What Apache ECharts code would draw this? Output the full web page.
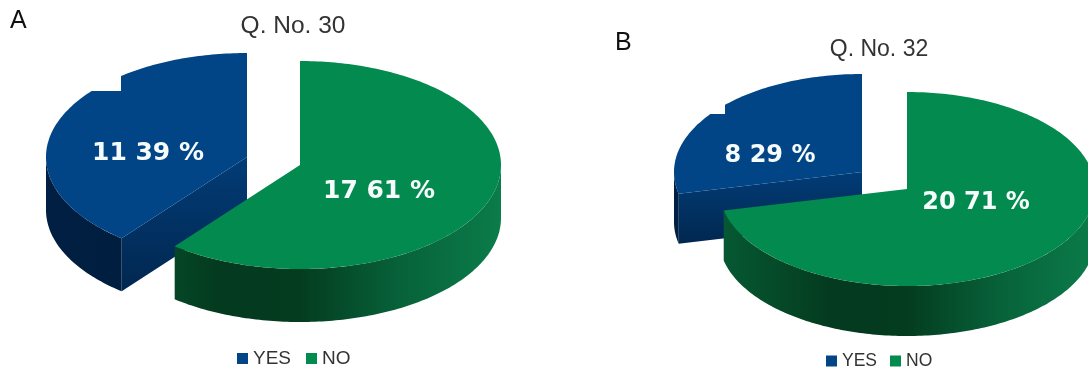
<!DOCTYPE html>
<html>
<head>
<meta charset="utf-8">
<style>html,body{margin:0;padding:0;background:#fff}#c{width:1088px;height:369px}</style>
<script src="https://cdn.jsdelivr.net/npm/echarts@6/dist/echarts.min.js"></script>
</head>
<body>
<div id="c"></div>
<script>
// ---- data ----
const answers = ['YES', 'NO'];
const panelLetters = ['A', 'B'];
const questionTitles = ['Q. No. 30', 'Q. No. 32'];
const q30Counts = [11, 17];
const q30Percents = [39, 61];
const q32Counts = [8, 20];
const q32Percents = [29, 71];

// ---- layout and style ----
const FONT = '"Liberation Sans", Arial, sans-serif';
const LAYOUT = [
  { yes: { cx: 247, cy: 157, rx: 201, ry: 104, depth: 53, lx: 148, ly: 153 },
    no:  { cx: 300, cy: 165, rx: 201, ry: 104, depth: 53, lx: 379, ly: 191 }, labelSize: 25 },
  { yes: { cx: 862, cy: 172, rx: 188, ry: 98, depth: 50, lx: 770, ly: 156 },
    no:  { cx: 907, cy: 189, rx: 188, ry: 97, depth: 50, lx: 976, ly: 203 }, labelSize: 24 }
];
const STYLE = {
  YES: {
    top: '#014586',
    outer: [[0, '#001f42'], [0.5, '#001c3b'], [1, '#012a55']],
    edge: [[0, '#023c76'], [1, '#012750']]
  },
  NO: {
    top: '#038a4f',
    outer: [[0, '#065a33'], [0.3, '#043a1f'], [0.5, '#043c20'], [0.75, '#07623a'], [1, '#0b7c4a']],
    edge: [[0, '#03703f'], [1, '#024a28']]
  }
};

const rad = d => d * Math.PI / 180;
function rim(p, deg, drop) {
  return [p.cx + p.rx * Math.sin(rad(deg)), p.cy - p.ry * Math.cos(rad(deg)) + (drop || 0)];
}
function arc(p, a0, a1, drop) {
  const pts = [], n = Math.max(2, Math.ceil(Math.abs(a1 - a0)));
  for (let i = 0; i <= n; i++) pts.push(rim(p, a0 + (a1 - a0) * i / n, drop));
  return pts;
}
function stops(list) { return list.map(s => ({ offset: s[0], color: s[1] })); }

function makeRender(name, geo, labelSize) {
  return function (params, api) {
    const count = api.value(0), total = api.value(1), before = api.value(2), pct = api.value(3);
    const a0 = before / total * 360, a1 = (before + count) / total * 360;
    const st = STYLE[name], kids = [];
    const apex = [geo.cx, geo.cy];
    const wallGrad = {
      type: 'linear', global: true, x: geo.cx - geo.rx, y: 0, x2: geo.cx + geo.rx, y2: 0,
      colorStops: stops(st.outer)
    };
    // cut faces that look toward the viewer
    function cutFace(deg) {
      const e = rim(geo, deg);
      kids.push({
        type: 'polygon',
        shape: { points: [apex, e, [e[0], e[1] + geo.depth], [apex[0], apex[1] + geo.depth]] },
        style: {
          fill: { type: 'linear', global: true, x: 0, y: geo.cy, x2: 0, y2: e[1] + geo.depth, colorStops: stops(st.edge) }
        }
      });
    }
    if (Math.sin(rad(a0)) < -1e-6) cutFace(a0);
    if (Math.sin(rad(a1)) > 1e-6) cutFace(a1);
    // outer wall: only the part of the rim on the near side
    const v0 = Math.max(a0, 90), v1 = Math.min(a1, 270);
    if (v1 > v0) {
      kids.push({
        type: 'polygon',
        shape: { points: arc(geo, v0, v1, 0).concat(arc(geo, v1, v0, geo.depth)) },
        style: { fill: wallGrad }
      });
    }
    // top face
    kids.push({
      type: 'polygon',
      shape: { points: [apex].concat(arc(geo, a0, a1, 0)) },
      style: { fill: st.top }
    });
    kids.push({
      type: 'text',
      style: {
        text: count + ' ' + pct + ' %', x: geo.lx, y: geo.ly, align: 'center', verticalAlign: 'middle',
        fill: '#f6fbfb', fontSize: labelSize, fontWeight: 'bold', fontFamily: '"DejaVu Sans"'
      }
    });
    return { type: 'group', children: kids };
  };
}

function pieSeries(panel, counts, percents) {
  const total = counts[0] + counts[1];
  const g = LAYOUT[panel];
  // NO starts at twelve o'clock and runs clockwise; YES closes the circle
  return [
    { name: answers[0], type: 'custom', coordinateSystem: 'none', silent: true, clip: false,
      itemStyle: { color: STYLE.YES.top },
      data: [[counts[0], total, counts[1], percents[0]]],
      renderItem: makeRender('YES', g.yes, g.labelSize) },
    { name: answers[1], type: 'custom', coordinateSystem: 'none', silent: true, clip: false,
      itemStyle: { color: STYLE.NO.top },
      data: [[counts[1], total, 0, percents[1]]],
      renderItem: makeRender('NO', g.no, g.labelSize) }
  ];
}

function legendAt(left, top, size, gap) {
  return {
    data: answers, left, top, orient: 'horizontal', icon: 'rect', itemWidth: 11, itemHeight: 11,
    itemGap: gap, selectedMode: false, padding: 0,
    textStyle: { fontFamily: FONT, fontSize: size, color: '#333', padding: [0, 0, 0, 0] }
  };
}

const chart = echarts.init(document.getElementById('c'), null, { renderer: 'canvas' });
chart.setOption({
  animation: false,
  backgroundColor: '#fff',
  title: [
    { text: questionTitles[0], left: 293, top: 14, textAlign: 'center', padding: 0,
      textStyle: { fontFamily: FONT, fontSize: 24.5, fontWeight: 'normal', color: '#333' } },
    { text: questionTitles[1], left: 879, top: 38, textAlign: 'center', padding: 0,
      textStyle: { fontFamily: FONT, fontSize: 23, fontWeight: 'normal', color: '#333' } }
  ],
  legend: [legendAt(237, 349, 19, 15), legendAt(826, 352, 17.5, 13)],
  series: pieSeries(0, q30Counts, q30Percents).concat(pieSeries(1, q32Counts, q32Percents)),
  graphic: [
    { type: 'rect', z: 50, shape: { x: 60, y: 60, width: 61, height: 31 }, style: { fill: '#fff' } },
    { type: 'rect', z: 50, shape: { x: 690, y: 90, width: 35, height: 24 }, style: { fill: '#fff' } },
    { type: 'text', z: 50, style: { text: panelLetters[0], x: 10, y: 9, fill: '#111', fontSize: 25, fontFamily: FONT } },
    { type: 'text', z: 50, style: { text: panelLetters[1], x: 615, y: 31, fill: '#111', fontSize: 25, fontFamily: FONT } }
  ]
});
</script>
</body>
</html>
